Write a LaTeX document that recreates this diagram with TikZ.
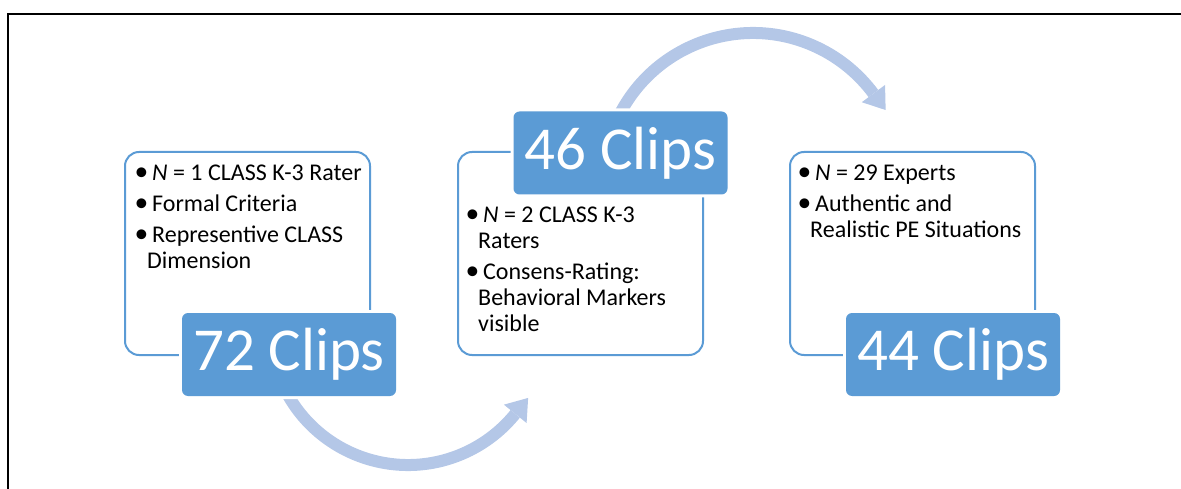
\documentclass[tikz,border=0pt]{standalone}
\usepackage{fontspec}
\setmainfont{Carlito}
\usetikzlibrary{calc}
\definecolor{boxblue}{RGB}{91,155,213}
\definecolor{arcblue}{RGB}{180,199,231}
\newcommand\bul{\makebox[15pt][l]{\hspace*{-2.5pt}\scalebox{1.15}{\textbullet}}}
\newcommand\contline{\\\hspace*{10pt}}
\begin{document}
\begin{tikzpicture}[x=1pt,y=-1pt,
  outline/.style={draw=boxblue, line width=2pt, rounded corners=14pt, minimum width=245pt, minimum height=203pt, inner sep=0pt},
  clipbox/.style={fill=boxblue, rounded corners=6pt, minimum width=214pt, minimum height=83pt, inner sep=0pt, text=white, font=\fontsize{61}{61}\selectfont, preaction={draw=white, line width=6pt}},
  txt/.style={anchor=base west, inner sep=0pt, font=\fontsize{24}{25.8}\selectfont},
  band/.style={draw=arcblue, line width=12pt},
  head/.style={fill=arcblue}]
\useasboundingbox (0,0) rectangle (1181,489);
\draw[line width=2pt] (8,489) -- (8,14) -- (1181,14);
% arc centres
\coordinate (c1) at (408,327);
\coordinate (c2) at (753,183);
% lower arrow
\draw[band] ($(c1)+(155:138)$) arc[start angle=155, end angle=39, radius=138];
\fill[head] ($(c1)+(39:123.4)$) -- ($(c1)+(39:152.6)$) -- ($(c1)+(39:138)+(-51:20.5)$) -- cycle;
% upper arrow
\draw[band] ($(c2)+(205:150)$) arc[start angle=205, end angle=323.4, radius=150];
\fill[head] ($(c2)+(323.4:135.5)$) -- ($(c2)+(323.4:164.5)$) -- ($(c2)+(323.4:150)+(53.4:20.5)$) -- cycle;
% outline boxes
\node[outline] (b1) at (247.5,253.5) {};
\node[outline] (b2) at (580.5,253.5) {};
\node[outline] (b3) at (912.5,253.5) {};
% clip boxes
\node[clipbox] (k1) at (289,354.5) {72 Clips};
\node[clipbox] (k2) at (620.5,153) {46 Clips};
\node[clipbox] (k3) at (953,354.5) {44 Clips};
% texts
\node[txt] (t1) at (137,181) {\begin{minipage}[t]{240pt}\setlength\parskip{5.2pt}\bul\textit{N} = 1 CLASS K-3 Rater\par\bul Formal Criteria\par\bul Representive CLASS\contline Dimension\end{minipage}};
\node[txt] (t2) at (468,223) {\begin{minipage}[t]{240pt}\setlength\parskip{5.2pt}\bul\textit{N} = 2 CLASS K-3\contline Raters\par\bul Consens-Rating:\contline Behavioral Markers\contline visible\end{minipage}};
\node[txt] (t3) at (800,181) {\begin{minipage}[t]{240pt}\setlength\parskip{5.2pt}\bul\textit{N} = 29 Experts\par\bul Authentic and\contline Realistic PE Situations\end{minipage}};
\end{tikzpicture}
\end{document}
